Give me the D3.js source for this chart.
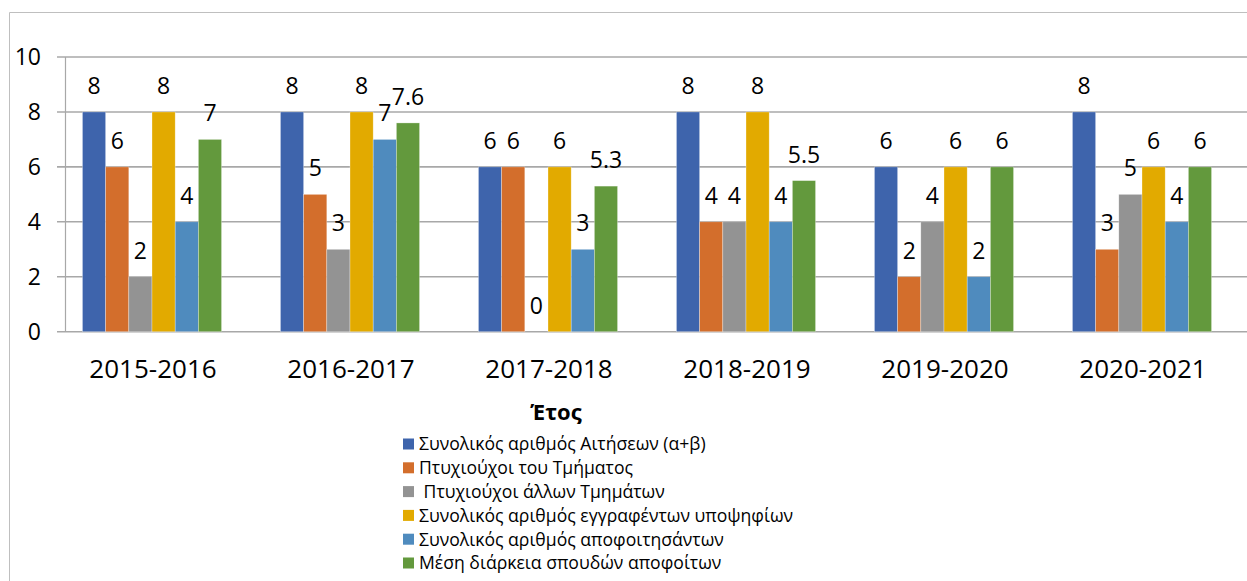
<!DOCTYPE html>
<html>
<head>
<meta charset="utf-8">
<script src="https://cdn.jsdelivr.net/npm/d3@7"></script>
<style>
  body { margin: 0; background: #fff; }
  svg text { font-family: 'Open Sans', sans-serif; fill: #000; }
</style>
</head>
<body>
<svg width="1247" height="581"></svg>
<script>
let years = ['2015-2016', '2016-2017', '2017-2018', '2018-2019', '2019-2020', '2020-2021'];

let seriesNames = [
  'Συνολικός αριθμός Αιτήσεων (α+β)',
  'Πτυχιούχοι του Τμήματος',
  ' Πτυχιούχοι άλλων Τμημάτων',
  'Συνολικός αριθμός εγγραφέντων υποψηφίων',
  'Συνολικός αριθμός αποφοιτησάντων',
  'Μέση διάρκεια σπουδών αποφοίτων',
];

let colors = ['#3e64ac', '#d36e2c', '#939393', '#e2aa00', '#4f8bbe', '#63993d'];

let aitiseis = [8, 8, 6, 8, 6, 8];
let ptyxiouxoiTmimatos = [6, 5, 6, 4, 2, 3];
let ptyxiouxoiAllon = [2, 3, 0, 4, 4, 5];
let eggrafentes = [8, 8, 6, 8, 6, 6];
let apofoitisantes = [4, 7, 3, 4, 2, 4];
let mesiDiarkeia = [7, 7.6, 5.3, 5.5, 6, 6];

let yTicks = [0, 2, 4, 6, 8, 10];

let allSeries = [aitiseis, ptyxiouxoiTmimatos, ptyxiouxoiAllon, eggrafentes, apofoitisantes, mesiDiarkeia];

let data = years.map((y, i) => ({
  year: y,
  values: allSeries.map((s, j) => ({ key: j, value: s[i] })),
}));

let svg = d3.select('svg');

let axisX = 65.5;
let plotTop = 57;
let plotBottom = 331.7;

// chart border
svg.append('path')
  .attr('d', 'M9.5,581 V12.5 H1247')
  .attr('fill', 'none')
  .attr('stroke', '#bfbfbf')
  .attr('stroke-width', 1);

let x0 = d3.scaleBand().domain(years).range([53, 1241]).padding(0);
let x1 = d3.scaleBand().domain(d3.range(6)).range([0, x0.bandwidth()]).paddingInner(0).paddingOuter(1.27);
let y = d3.scaleLinear().domain([0, 10]).range([plotBottom, plotTop]);

// gridlines
svg.append('g')
  .selectAll('line')
  .data(yTicks)
  .enter()
  .append('line')
  .attr('x1', 57)
  .attr('x2', 1247)
  .attr('y1', (d) => y(d))
  .attr('y2', (d) => y(d))
  .attr('stroke', '#a8a8a8')
  .attr('stroke-width', 1.6);

svg.append('line')
  .attr('x1', axisX).attr('x2', axisX)
  .attr('y1', plotTop).attr('y2', plotBottom)
  .attr('stroke', '#a8a8a8')
  .attr('stroke-width', 1.2);

// y tick labels
svg.append('g')
  .selectAll('text')
  .data(yTicks)
  .enter()
  .append('text')
  .attr('x', 41)
  .attr('y', (d) => y(d))
  .attr('dy', '0.36em')
  .attr('text-anchor', 'end')
  .style('font-size', '23px')
  .text((d) => d);

let groups = svg.selectAll('g.bar-group')
  .data(data)
  .enter()
  .append('g')
  .attr('class', 'bar-group')
  .attr('transform', (d) => `translate(${x0(d.year)},0)`);

groups.selectAll('rect')
  .data((d) => d.values)
  .enter()
  .append('rect')
  .attr('x', (d) => x1(d.key))
  .attr('y', (d) => y(d.value))
  .attr('width', x1.bandwidth())
  .attr('height', (d) => y(0) - y(d.value))
  .attr('fill', (d) => colors[d.key])
  .attr('stroke', '#ffffff')
  .attr('stroke-opacity', 0.5)
  .attr('stroke-width', 0.6);

groups.selectAll('text')
  .data((d) => d.values)
  .enter()
  .append('text')
  .attr('x', (d) => x1(d.key) + x1.bandwidth() / 2)
  .attr('y', (d) => y(d.value) - 18)
  .attr('text-anchor', 'middle')
  .style('font-size', '23px')
  .text((d) => d.value);

// category labels
svg.append('g')
  .selectAll('text')
  .data(years)
  .enter()
  .append('text')
  .attr('x', (d) => x0(d) + x0.bandwidth() / 2 + 1)
  .attr('y', 378)
  .attr('text-anchor', 'middle')
  .style('font-size', '26px')
  .text((d) => d);

// axis title
svg.append('text')
  .attr('x', 556)
  .attr('y', 420)
  .attr('text-anchor', 'middle')
  .style('font-size', '22px')
  .style('font-weight', 'bold')
  .text('Έτος');

// legend
let legend = svg.append('g')
  .selectAll('g')
  .data(seriesNames)
  .enter()
  .append('g')
  .attr('transform', (d, i) => `translate(403,${444 + i * 23.8})`);

legend.append('rect')
  .attr('x', 0)
  .attr('y', -5.5)
  .attr('width', 11)
  .attr('height', 11)
  .attr('fill', (d, i) => colors[i]);

legend.append('text')
  .attr('x', 16)
  .attr('y', 0)
  .attr('dy', '0.36em')
  .style('font-size', '17.6px')
  .style('white-space', 'pre')
  .text((d) => d);
</script>
</body>
</html>
